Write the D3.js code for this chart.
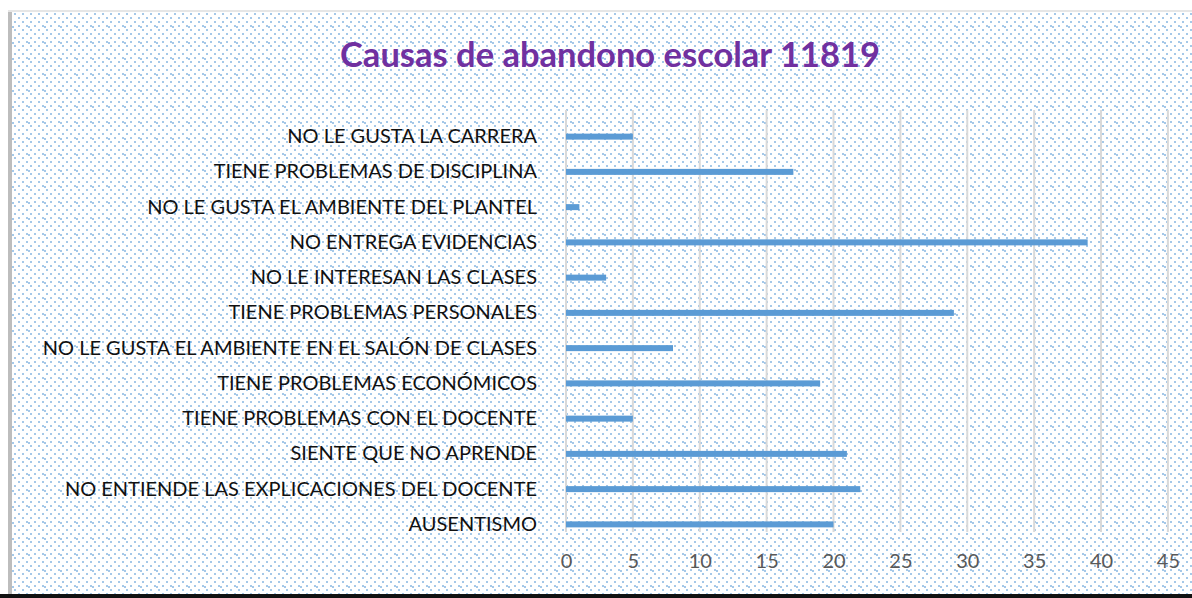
<!DOCTYPE html>
<html>
<head>
<meta charset="utf-8">
<script src="https://cdn.jsdelivr.net/npm/d3@7"></script>
<style>
  body { margin: 0; background: #fff; }
  svg { display: block; }
  text { font-family: Lato, "Open Sans", sans-serif; }
</style>
</head>
<body>
<div id="chart"></div>
<script>
const title = "Causas de abandono escolar 11819"
const causes = [
  "NO LE GUSTA LA CARRERA",
  "TIENE PROBLEMAS DE DISCIPLINA",
  "NO LE GUSTA EL AMBIENTE DEL PLANTEL",
  "NO ENTREGA EVIDENCIAS",
  "NO LE INTERESAN LAS CLASES",
  "TIENE PROBLEMAS PERSONALES",
  "NO LE GUSTA EL AMBIENTE EN EL SALÓN DE CLASES",
  "TIENE PROBLEMAS ECONÓMICOS",
  "TIENE PROBLEMAS CON EL DOCENTE",
  "SIENTE QUE NO APRENDE",
  "NO ENTIENDE LAS EXPLICACIONES DEL DOCENTE",
  "AUSENTISMO"
]
const counts = [5, 17, 1, 39, 3, 29, 8, 19, 5, 21, 22, 20]
const xTicks = [0, 5, 10, 15, 20, 25, 30, 35, 40, 45]

const width = 1192, height = 598
const margin = { top: 110, left: 566 }
const gridHeight = 422      // gridlines stop a bit above the last band end
const bandTop = 9, bandHeight = 423

const svg = d3.select('#chart').append('svg')
  .attr('width', width)
  .attr('height', height)

// dotted background pattern (like the Excel fill)
const defs = svg.append('defs')
const pat = defs.append('pattern')
  .attr('id', 'dots')
  .attr('patternUnits', 'userSpaceOnUse')
  .attr('width', 16).attr('height', 16)
const dotSpots = [[2, 1], [10, 1], [6, 5], [14, 5], [2, 9], [10, 9], [12, 10], [6, 13], [14, 13]]
pat.selectAll('rect')
  .data(dotSpots)
  .join('rect')
  .attr('x', d => d[0]).attr('y', d => d[1])
  .attr('width', 2).attr('height', 2)
  .attr('fill', '#5b9bd5')
  .attr('opacity', 0.55)

// frame
svg.append('rect').attr('x', 0).attr('y', 0).attr('width', width).attr('height', height)
  .attr('fill', '#fff')
svg.append('rect').attr('x', 8).attr('y', 10).attr('width', width - 8).attr('height', height - 10)
  .attr('fill', '#e6e6e6')
svg.append('rect').attr('x', 12).attr('y', 12).attr('width', width - 12).attr('height', 582)
  .attr('fill', '#fff')
svg.append('rect').attr('x', 12).attr('y', 12).attr('width', width - 12).attr('height', 582)
  .attr('fill', 'url(#dots)')
svg.append('rect').attr('x', 8).attr('y', 12).attr('width', 4).attr('height', 582)
  .attr('fill', '#bdbdbd')
svg.append('rect').attr('x', 0).attr('y', 594).attr('width', width).attr('height', 4)
  .attr('fill', '#111')

// title
svg.append('text')
  .attr('x', 610)
  .attr('y', 67)
  .attr('text-anchor', 'middle')
  .style('font-size', '34.5px')
  .style('font-weight', 'bold')
  .style('fill', '#7030a0')
  .text(title)

const wrapper = svg.append('g')
  .attr('transform', `translate(${margin.left}, ${margin.top})`)

const x = d3.scaleLinear()
  .domain([0, 45])
  .range([0, 601.9])

const y = d3.scaleBand()
  .domain(causes)
  .range([bandTop, bandTop + bandHeight])

// vertical gridlines
wrapper.append('g')
  .selectAll('line')
  .data(xTicks)
  .join('line')
  .attr('x1', d => x(d)).attr('x2', d => x(d))
  .attr('y1', 0).attr('y2', gridHeight)
  .attr('stroke', '#d9d9d9')
  .attr('stroke-width', 2)

// bars
const barH = 6
wrapper.append('g')
  .selectAll('rect')
  .data(causes)
  .join('rect')
  .attr('x', x(0))
  .attr('y', d => y(d) + y.bandwidth() / 2 - barH / 2)
  .attr('width', (d, i) => x(counts[i]) - x(0))
  .attr('height', barH)
  .attr('fill', '#5b9bd5')

// x axis
const xAxis = wrapper.append('g')
  .attr('transform', `translate(0, ${gridHeight})`)
  .call(d3.axisBottom(x).tickValues(xTicks).tickSize(0).tickPadding(22))
xAxis.select('.domain').remove()
xAxis.selectAll('text')
  .style('font-size', '20px')
  .style('fill', '#595959')
  .style('font-family', 'Lato, sans-serif')

// y axis
const yAxis = wrapper.append('g')
  .attr('transform', 'translate(-29, 0)')
  .call(d3.axisLeft(y).tickSize(0).tickPadding(0))
yAxis.select('.domain').remove()
yAxis.selectAll('text')
  .style('font-size', '20px')
  .style('fill', '#111')
  .style('font-family', 'Lato, sans-serif')
</script>
</body>
</html>
